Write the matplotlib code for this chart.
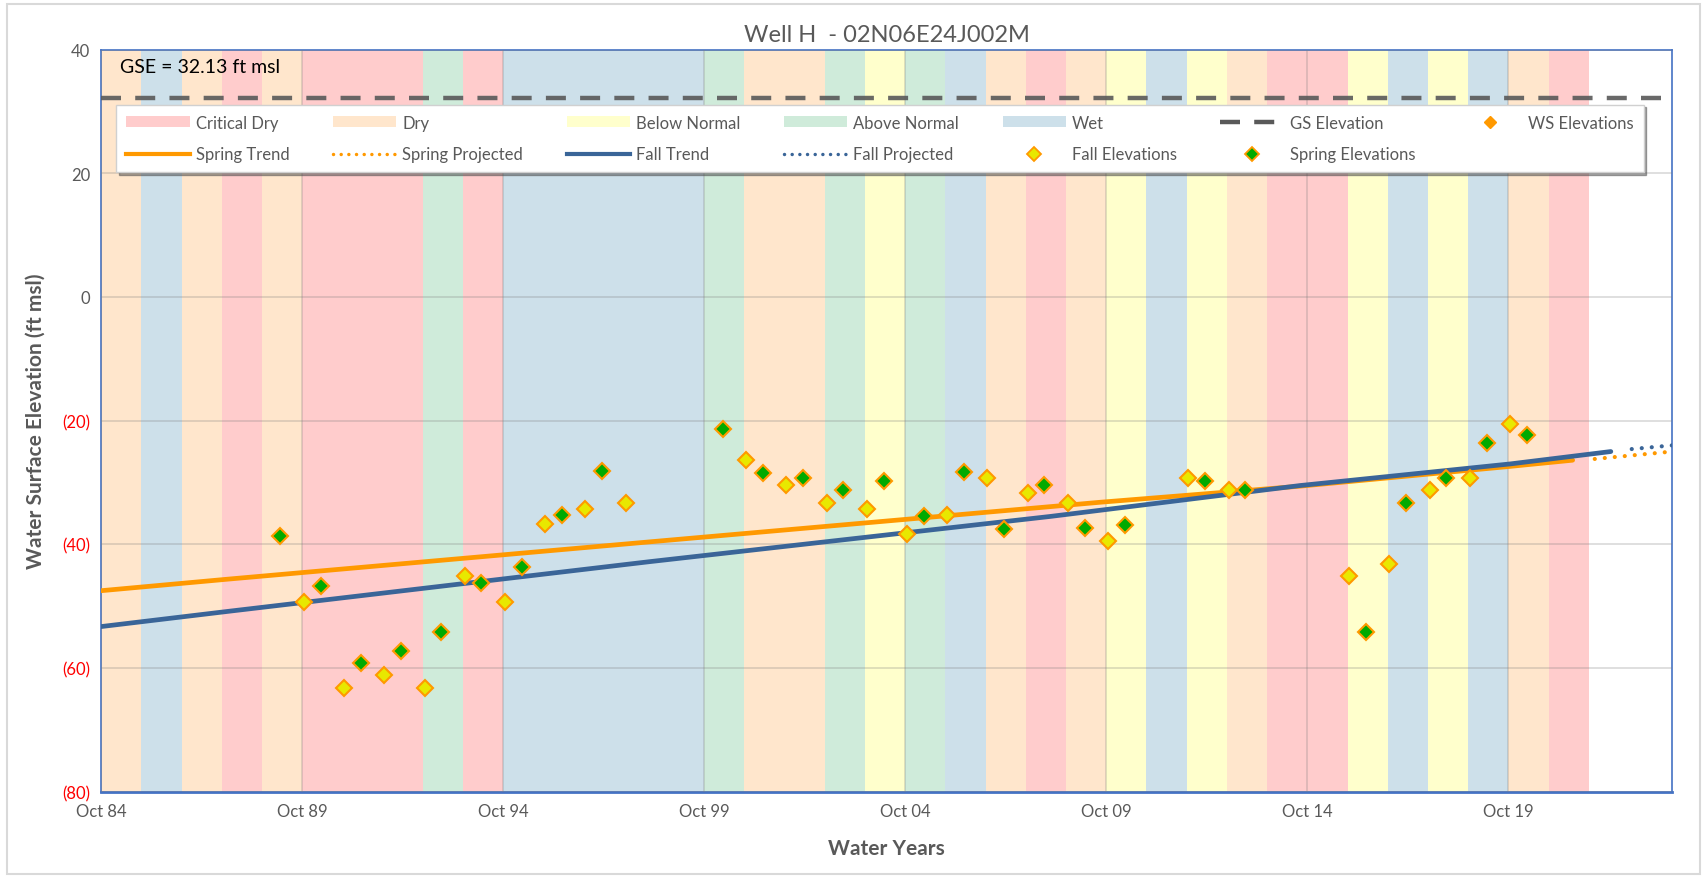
import matplotlib.pyplot as plt
from matplotlib.patches import Patch, Rectangle
from matplotlib.lines import Line2D

plt.rcParams['font.family'] = ['Lato', 'DejaVu Sans']

# water year types, WY1985 .. WY2021 (C=critical dry, D=dry, BN=below normal, AN=above normal, W=wet)
wy_first = 1985
wy_types = ['D', 'W', 'D', 'C', 'D', 'C', 'C', 'C', 'AN', 'C',
            'W', 'W', 'W', 'W', 'W', 'AN', 'D', 'D', 'AN', 'BN',
            'AN', 'W', 'D', 'C', 'D', 'BN', 'W', 'BN', 'D', 'C',
            'C', 'BN', 'W', 'BN', 'W', 'D', 'C']

gse = 32.13

# spring (March) measurements
spring_years = [1989, 1990, 1991, 1992, 1993, 1994, 1995, 1996, 1997, 2000,
                2001, 2002, 2003, 2004, 2005, 2006, 2007, 2008, 2009, 2010,
                2012, 2013, 2016, 2017, 2018, 2019, 2020]
spring_wse = [-38.7, -46.7, -59.2, -57.2, -54.2, -46.3, -43.7, -35.3, -28.2, -21.4,
              -28.4, -29.3, -31.3, -29.7, -35.5, -28.3, -37.5, -30.4, -37.3, -36.8,
              -29.7, -31.3, -54.2, -33.3, -29.3, -23.7, -22.3]

# fall (October) measurements
fall_years = [1989, 1990, 1991, 1992, 1993, 1994, 1995, 1996, 1997, 2000,
              2001, 2002, 2003, 2004, 2005, 2006, 2007, 2008, 2009, 2011,
              2012, 2015, 2016, 2017, 2018, 2019]
fall_wse = [-49.3, -63.2, -61.2, -63.2, -45.2, -49.3, -36.7, -34.3, -33.3, -26.4,
            -30.4, -33.4, -34.3, -38.4, -35.3, -29.2, -31.7, -33.3, -39.4, -29.3,
            -31.3, -45.2, -43.2, -31.3, -29.3, -20.5]

# trend lines (decimal years)
spring_trend_t = [1984.75, 1987.96, 1998.4, 2009.6, 2014.57, 2019.8, 2021.35]
spring_trend_v = [-47.5, -45.6, -39.6, -33.2, -30.6, -27.4, -26.4]
fall_trend_t = [1984.75, 1987.96, 1998.4, 2008.35, 2014.57, 2019.8, 2022.3]
fall_trend_v = [-53.3, -50.8, -42.8, -35.5, -30.5, -27.0, -25.0]
spring_proj_t = [2021.9, 2023.83]
spring_proj_v = [-26.2, -25.0]
fall_proj_t = [2022.82, 2023.83]
fall_proj_v = [-24.6, -24.0]

tick_years = [1984, 1989, 1994, 1999, 2004, 2009, 2014, 2019]

type_colors = {'C': '#FFCCCC', 'D': '#FFE6CC', 'BN': '#FFFFCC',
               'AN': '#CFEBDA', 'W': '#CDE0EA'}
type_names = {'C': 'Critical Dry', 'D': 'Dry', 'BN': 'Below Normal',
              'AN': 'Above Normal', 'W': 'Wet'}

orange = '#FF9900'
blue = '#3A6598'
gray = '#595959'


def dec_year(year, month):
    return year + (month - 0.5) / 12


fig = plt.figure(figsize=(17.07, 8.79), dpi=100)
ax = fig.add_axes([0.0593, 0.0982, 0.9204, 0.8443])

# water year shading, Oct 1 to Sep 30
for i, t in enumerate(wy_types):
    start = wy_first - 1 + 0.75 + i
    ax.axvspan(start, start + 1, color=type_colors[t], lw=0, zorder=0)

ax.set_xlim(1984.75, 2023.83)
ax.set_ylim(-80, 40)

xt = [y + 0.75 for y in tick_years]
ax.set_xticks(xt)
ax.set_xticklabels([f"Oct {y % 100:02d}" for y in tick_years], color=gray, fontsize=12)
yt = list(range(-80, 41, 20))
ax.set_yticks(yt)
ax.set_yticklabels([f"({abs(v)})" if v < 0 else str(v) for v in yt], fontsize=12)
for lbl, v in zip(ax.get_yticklabels(), yt):
    lbl.set_color('red' if v < 0 else gray)
ax.tick_params(length=0, pad=8)
ax.grid(True, color='#808080', alpha=0.3, lw=1.2, zorder=1)
ax.set_axisbelow(False)

for s in ax.spines.values():
    s.set_color('#4472C4')
    s.set_linewidth(1.2)
ax.spines['bottom'].set_linewidth(2)

ax.axhline(gse, color=gray, alpha=0.9, lw=3.2, dashes=(4.5, 3.2), zorder=3)
ax.text(0.0118, 0.977, f"GSE = {gse:.2f} ft msl", transform=ax.transAxes,
        fontsize=14, va='center', ha='left', color='black', zorder=4)

ax.plot(spring_trend_t, spring_trend_v, color=orange, lw=3.4, zorder=4, solid_capstyle='round')
ax.plot(fall_trend_t, fall_trend_v, color=blue, lw=3.4, zorder=4, solid_capstyle='round')
ax.plot(spring_proj_t, spring_proj_v, color=orange, lw=3, zorder=4,
        linestyle=(0, (0.01, 2.4)), dash_capstyle='round')
ax.plot(fall_proj_t, fall_proj_v, color=blue, lw=3, zorder=4,
        linestyle=(0, (0.01, 2.4)), dash_capstyle='round')

ax.plot([dec_year(y, 10) for y in fall_years], fall_wse, 'D', ms=8.6,
        mfc='#E8E800', mec=orange, mew=1.5, zorder=5)
ax.plot([dec_year(y, 3) for y in spring_years], spring_wse, 'D', ms=8.6,
        mfc='#00AA00', mec=orange, mew=1.5, zorder=5)

ax.set_title("Well H  - 02N06E24J002M", color=gray, fontsize=17, pad=6)
ax.set_ylabel("Water Surface Elevation (ft msl)", color=gray, fontsize=15,
              fontweight='bold', labelpad=12)
ax.set_xlabel("Water Years", color=gray, fontsize=15, fontweight='bold', labelpad=14)

band = lambda k: Patch(facecolor=type_colors[k], edgecolor='none', label=type_names[k])
handles = [
    band('C'),
    Line2D([], [], color=orange, lw=3, label='Spring Trend'),
    band('D'),
    Line2D([], [], color=orange, lw=2.5, linestyle=(0, (0.01, 2.2)),
           dash_capstyle='round', label='Spring Projected'),
    band('BN'),
    Line2D([], [], color=blue, lw=3, label='Fall Trend'),
    band('AN'),
    Line2D([], [], color=blue, lw=2.5, linestyle=(0, (0.01, 2.2)),
           dash_capstyle='round', label='Fall Projected'),
    band('W'),
    Line2D([], [], ls='none', marker='D', ms=7, mfc='#E8E800', mec=orange,
           mew=1.3, label='Fall Elevations'),
    Line2D([], [], color=gray, lw=3.2, dashes=(4.5, 3.2), label='GS Elevation'),
    Line2D([], [], ls='none', marker='D', ms=7, mfc='#00AA00', mec=orange,
           mew=1.3, label='Spring Elevations'),
    Line2D([], [], ls='none', marker='D', ms=6, mfc=orange, mec=orange,
           label='WS Elevations'),
]
leg = ax.legend(handles=handles, ncol=7, mode='expand', loc='upper left',
                bbox_to_anchor=(0.0097, 0.9258, 0.972, 0.0),
                borderaxespad=0, fontsize=12, handlelength=3.8, handleheight=0.6,
                handletextpad=0.35, labelspacing=0.95, borderpad=0.6,
                fancybox=False, shadow=True, framealpha=1, edgecolor='#D0D0D0')
for txt in leg.get_texts():
    txt.set_color(gray)
leg.set_zorder(6)

fig.patches.append(Rectangle((0.004, 0.004), 0.992, 0.99, transform=fig.transFigure,
                             fill=False, edgecolor='#D9D9D9', lw=1.5))

fig.savefig('out.png', dpi=100)
